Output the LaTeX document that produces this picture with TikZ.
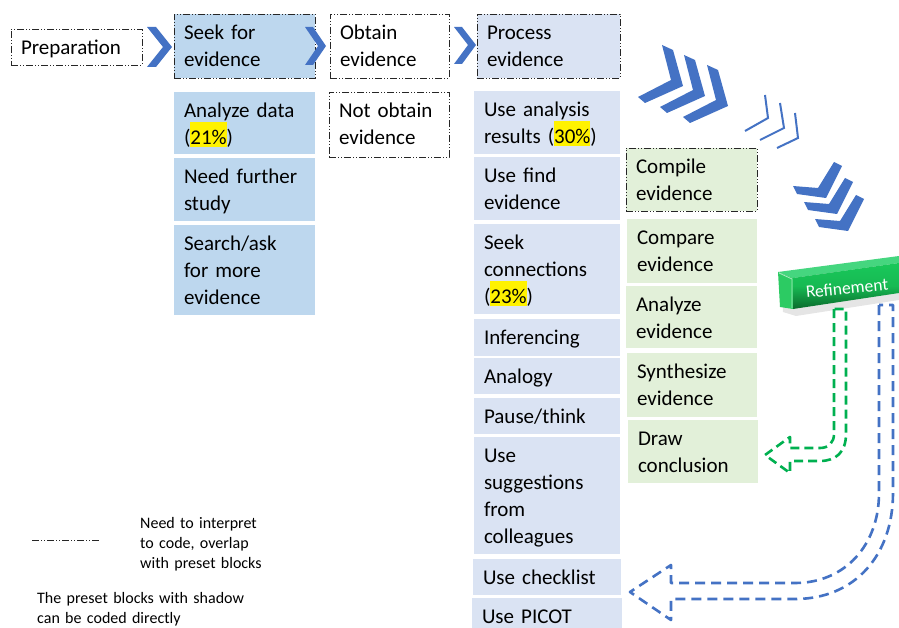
\documentclass[tikz,border=0pt]{standalone}
\usepackage{fontspec}
\setmainfont{Carlito}
\definecolor{seekfill}{HTML}{BDD7EE}
\definecolor{procfill}{HTML}{DAE3F3}
\definecolor{grnfill}{HTML}{E2F0D9}
\definecolor{chevblue}{HTML}{4472C4}
\definecolor{arrgreen}{HTML}{00B050}
\definecolor{refA}{HTML}{19C85A}
\definecolor{refB}{HTML}{0A6A2C}
\definecolor{refTop}{HTML}{45D67F}
\definecolor{refSide}{HTML}{2CCB63}
\newcommand\boxfont{\fontsize{21}{27}\selectfont}
\newcommand\legfont{\fontsize{16}{20}\selectfont}
\newcommand\hlt[1]{{\setlength\fboxsep{0pt}\colorbox{yellow}{\rule[-3pt]{0pt}{25pt}#1}}}
\tikzset{
  ddot/.style={draw=black!85, line width=0.9pt, dash pattern=on 7pt off 2pt on 1pt off 2pt on 1pt off 2pt},
  boxbase/.style={anchor=north west, inner sep=0pt, outer sep=0pt, rectangle},
  boxtext/.style={anchor=base west, inner sep=0pt, outer sep=0pt, text width=200pt, align=left, font=\boxfont},
  legtext/.style={anchor=base west, inner sep=0pt, text width=260pt, align=left, font=\legfont},
  chev/.style={fill=chevblue, draw=none},
  thinchev/.style={draw=chevblue, line width=2pt},
  grnarrow/.style={draw=arrgreen, line width=2.6pt, dash pattern=on 9pt off 5pt, line join=round},
  bluarrow/.style={draw=chevblue, line width=2.6pt, dash pattern=on 10pt off 6pt, line join=round},
}
\newcommand\mkbox[7]{%
  \node[boxbase, minimum width=#4pt, minimum height=#5pt, #6] (#1) at (#2,#3) {};
  \node[boxtext] (#1t) at ([shift={(10pt,-25.5pt)}]#1.north west) {#7};
}
\begin{document}
\begin{tikzpicture}[x=1pt,y=-1pt]
\useasboundingbox (0,0) rectangle (899,628);
\fill[white] (0,0) rectangle (899,628);

% header row
\mkbox{prep}{11}{29}{131}{36}{fill=white, ddot}{Preparation}
\mkbox{seek}{174}{14}{141}{64}{fill=seekfill, ddot}{Seek for\\evidence}
\mkbox{obtain}{330}{14}{119}{64}{fill=white, ddot}{Obtain\\evidence}
\mkbox{process}{477}{14}{143}{64}{fill=procfill, ddot}{Process\\evidence}

% chevrons between headers
\fill[chev] (147,27) -- (156,27) -- (172,47) -- (156,67) -- (147,67) -- (163,47) -- cycle;
\fill[chev] (305,27) -- (313,27) -- (326,46) -- (313,65) -- (305,65) -- (318,46) -- cycle;
\fill[chev] (454,27) -- (462,27) -- (476,45) -- (462,64) -- (454,64) -- (468,45) -- cycle;

% seek column
\mkbox{s1}{174}{92}{141}{62}{fill=seekfill}{Analyze data\\(\hlt{21\%})}
\mkbox{s2}{174}{158}{141}{63}{fill=seekfill}{Need further\\study}
\mkbox{s3}{174}{225}{141}{90}{fill=seekfill}{Search/ask\\for more\\evidence}

% obtain column
\mkbox{o1}{329}{92}{120}{65}{fill=white, ddot}{Not obtain\\evidence}

% process column
\mkbox{p1}{474}{91}{146}{63}{fill=procfill}{Use analysis\\results (\hlt{30\%})}
\mkbox{p2}{474}{157}{146}{63}{fill=procfill}{Use find\\evidence}
\mkbox{p3}{474}{224}{146}{90}{fill=procfill}{Seek\\connections\\(\hlt{23\%})}
\mkbox{p4}{474}{319}{146}{37}{fill=procfill}{Inferencing}
\mkbox{p5}{474}{358}{146}{36}{fill=procfill}{Analogy}
\mkbox{p6}{474}{398}{146}{36}{fill=procfill}{Pause/think}
\mkbox{p7}{474}{437}{146}{117}{fill=procfill}{Use\\suggestions\\from\\colleagues}
\mkbox{p8}{473}{559}{148}{36}{fill=procfill}{Use checklist}
\mkbox{p9}{472}{598}{150}{32}{fill=procfill}{Use PICOT}

% green column
\mkbox{g1}{626}{148}{131}{63}{fill=grnfill, ddot}{Compile\\evidence}
\mkbox{g2}{627}{219}{130}{64}{fill=grnfill}{Compare\\evidence}
\mkbox{g3}{626}{286}{131}{62}{fill=grnfill}{Analyze\\evidence}
\mkbox{g4}{627}{353}{130}{64}{fill=grnfill}{Synthesize\\evidence}
\mkbox{g5}{628}{420}{130}{63}{fill=grnfill}{Draw\\conclusion}

% big triple chevrons
\foreach \dx/\dy in {0/0, 22/10, 45/20}{
  \fill[chev, shift={(\dx pt,-\dy pt)}] (662,45) -- (673,50) -- (683,86) -- (645,103) -- (638,97) -- (671,80) -- cycle;
}
% thin chevrons
\draw[thinchev] (765,95) -- (768,118) -- (745,131);
\draw[thinchev] (780,103) -- (784,128) -- (760,140);
\draw[thinchev] (795,113) -- (798,138) -- (777,148);
% downward chevrons
\foreach \dx/\dy in {0/0, 11/16, 22/33}{
  \fill[chev, shift={(\dx pt,-\dy pt)}] (793,186) -- (818,188) -- (834,162) -- (842,166) -- (826,198) -- (797,194) -- cycle;
}

% Refinement block
\fill[black, opacity=0.10] (781,278) -- (899,263) -- (899,300) -- (796,316) -- (783,312) -- cycle;
\fill[refTop] (778,272) -- (899,256) -- (899,263) -- (793,278) -- cycle;
\fill[refSide] (778,272) -- (793,278) -- (793,309) -- (780,307) -- cycle;
\draw[white, opacity=0.6, line width=0.8pt] (779,273) -- (792,279) -- (792,308);
\shade[top color=refA, bottom color=refB, middle color=refA!85!refB] (793,278) -- (899,263) -- (899,293) -- (793,309) -- cycle;
\node[rotate=5.5, text=white, inner sep=0pt, font=\fontsize{17.5}{20}\selectfont] (refine) at (847,288) {Refinement};

% green dashed U-turn arrow
\draw[grnarrow] (834,309) -- (834,434) .. controls (834,442) and (829,448) .. (820,448) -- (790,448) -- (790,437) -- (765,455) -- (790,473) -- (790,461) -- (820,461) .. controls (836,461) and (846,452) .. (846,434) -- (846,309) -- cycle;

% blue dashed U-turn arrow
\draw[bluarrow] (879,305) -- (879,493) .. controls (879,545) and (845,583) .. (795,583) -- (671,583) -- (671,565) -- (630,592) -- (671,620) -- (671,599) -- (795,599) .. controls (855,599) and (893,555) .. (893,493) -- (893,305) -- cycle;

% legend
\coordinate (legA) at (32,540);
\coordinate (legB) at (99,540);
\draw[black!85, line width=0.9pt, dash pattern=on 7pt off 2pt on 1pt off 2pt on 1pt off 2pt] (legA) -- (legB);
\node[legtext] (leg1) at (140,528) {Need to interpret\\to code, overlap\\with preset blocks};
\node[legtext] (leg2) at (37,603) {The preset blocks with shadow\\can be coded directly};
\end{tikzpicture}
\end{document}
